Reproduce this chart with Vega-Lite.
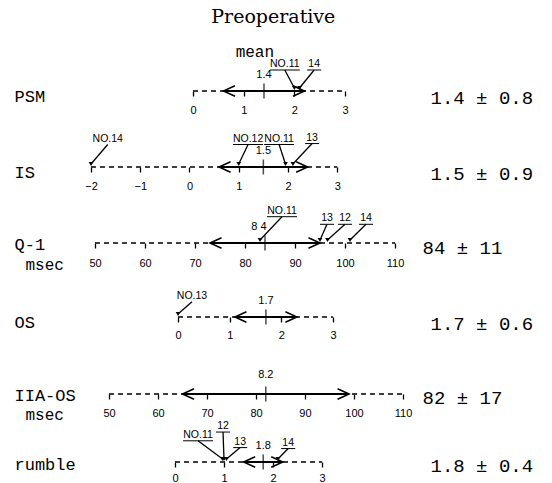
{
  "$schema": "https://vega.github.io/schema/vega-lite/v6.json",
  "background": "white",
  "padding": {"left": 14, "top": 8, "right": 5, "bottom": 2},
  "title": {"text": "Preoperative", "font": "DejaVu Serif", "fontSize": 19, "fontWeight": "normal", "color": "black", "anchor": "middle", "offset": 14},
  "config": {
    "view": {"stroke": null},
    "font": "Liberation Sans",
    "axis": {"grid": false, "labelColor": "black"}
  },
  "datasets": {
    "rows": [
      {"row": "PSM", "axisMin": 0, "axisMax": 3, "mean": 1.4, "sd": 0.8, "lower": 0.6, "upper": 2.2, "meanLabel": "1.4", "stat": "1.4 ± 0.8"},
      {"row": "IS", "axisMin": -2, "axisMax": 3, "mean": 1.5, "sd": 0.9, "lower": 0.6, "upper": 2.4, "meanLabel": "1.5", "stat": "1.5 ± 0.9"},
      {"row": "Q-1", "axisMin": 50, "axisMax": 110, "mean": 84, "sd": 11, "lower": 73, "upper": 95, "meanLabel": "8 4", "stat": "84 ± 11"},
      {"row": "OS", "axisMin": 0, "axisMax": 3, "mean": 1.7, "sd": 0.6, "lower": 1.1, "upper": 2.3, "meanLabel": "1.7", "stat": "1.7 ± 0.6"},
      {"row": "IIA-OS", "axisMin": 50, "axisMax": 110, "mean": 82, "sd": 17, "lower": 65, "upper": 99, "meanLabel": "8.2", "stat": "82 ± 17"},
      {"row": "rumble", "axisMin": 0, "axisMax": 3, "mean": 1.8, "sd": 0.4, "lower": 1.4, "upper": 2.2, "meanLabel": "1.8", "stat": "1.8 ± 0.4"}
    ],
    "notes": [
      {"row": "PSM", "kind": "note", "label": "mean", "lx": 1.22, "lift": 39},
      {"row": "PSM", "kind": "case", "label": "NO.11", "lx": 1.81, "lift": 27, "target": 2.0},
      {"row": "PSM", "kind": "case", "label": "14", "lx": 2.39, "lift": 27, "target": 2.1},
      {"row": "IS", "kind": "case", "label": "NO.14", "lx": -1.66, "lift": 30, "target": -2},
      {"row": "IS", "kind": "case", "label": "NO.12", "lx": 1.19, "lift": 30, "target": 1.0},
      {"row": "IS", "kind": "case", "label": "NO.11", "lx": 1.82, "lift": 30, "target": 1.95},
      {"row": "IS", "kind": "case", "label": "13", "lx": 2.49, "lift": 31, "target": 2.1},
      {"row": "Q-1", "kind": "case", "label": "NO.11", "lx": 87.4, "lift": 34, "target": 83},
      {"row": "Q-1", "kind": "case", "label": "13", "lx": 96.4, "lift": 26, "target": 95},
      {"row": "Q-1", "kind": "case", "label": "12", "lx": 100, "lift": 26, "target": 96.5},
      {"row": "Q-1", "kind": "case", "label": "14", "lx": 104.2, "lift": 26, "target": 101},
      {"row": "OS", "kind": "case", "label": "NO.13", "lx": 0.27, "lift": 23, "target": 0},
      {"row": "rumble", "kind": "case", "label": "NO.11", "lx": 0.47, "lift": 28, "target": 0.97},
      {"row": "rumble", "kind": "case", "label": "12", "lx": 0.98, "lift": 37, "target": 1.0},
      {"row": "rumble", "kind": "case", "label": "13", "lx": 1.33, "lift": 21, "target": 1.05},
      {"row": "rumble", "kind": "case", "label": "14", "lx": 2.31, "lift": 20, "target": 2.1}
    ]
  },
  "spacing": 0,
  "bounds": "flush",
  "vconcat": [
    {
      "width": 330, "height": 50,
      "resolve": {"scale": {"y": "independent"}},
      "layer": [
        {
          "data": {"name": "rows"},
          "transform": [{"filter": "datum.row === 'PSM'"}],
          "mark": {"type": "rule", "strokeDash": [5, 4], "strokeWidth": 1.3, "color": "black"},
          "encoding": {
            "x": {"field": "axisMin", "type": "quantitative", "scale": {"domain": [-2.229, 4.28], "nice": false, "zero": false},
              "axis": {"values": [0, 1, 2, 3], "domain": false, "ticks": true, "tickSize": 5, "tickWidth": 1.3, "tickColor": "black", "labelFont": "Liberation Sans", "labelFontSize": 11, "labelPadding": 8, "labelFlush": false, "labelOverlap": false, "title": null}},
            "x2": {"field": "axisMax"},
            "y": {"field": "row", "type": "nominal", "scale": {"type": "point", "padding": 0, "align": 1},
              "axis": {"orient": "left", "title": null, "ticks": false, "domain": false, "labelAlign": "left", "labelBaseline": "middle", "labelPadding": 66, "labelOffset": 5, "labelFont": "Liberation Mono", "labelFontSize": 17}}
          }
        },
        {
          "data": {"name": "rows"},
          "transform": [{"filter": "datum.row === 'PSM'"}],
          "encoding": {
            "y": {"field": "stat", "type": "nominal", "scale": {"type": "point", "padding": 0, "align": 1},
              "axis": {"orient": "right", "title": null, "ticks": false, "domain": false, "labelAlign": "left", "labelBaseline": "middle", "labelPadding": 20, "labelOffset": 6, "labelFont": "Liberation Mono", "labelFontSize": 19}}
          },
          "layer": [
            {"mark": {"type": "rule", "strokeWidth": 1.8, "color": "black"}, "encoding": {"x": {"field": "lower", "type": "quantitative"}, "x2": {"field": "upper"}}},
            {"mark": {"type": "tick", "orient": "vertical", "size": 15, "thickness": 1.5, "color": "black"}, "encoding": {"x": {"field": "mean", "type": "quantitative"}}},
            {"mark": {"type": "point", "shape": "M2.2,-1L0,0L2.2,1", "size": 110, "filled": false, "strokeWidth": 1.5, "color": "black", "opacity": 1}, "encoding": {"x": {"field": "lower", "type": "quantitative"}}},
            {"mark": {"type": "point", "shape": "M-2.2,-1L0,0L-2.2,1", "size": 110, "filled": false, "strokeWidth": 1.5, "color": "black", "opacity": 1}, "encoding": {"x": {"field": "upper", "type": "quantitative"}}},
            {"mark": {"type": "text", "dy": -16, "font": "Liberation Sans", "fontSize": 11, "color": "black"}, "encoding": {"x": {"field": "mean", "type": "quantitative"}, "text": {"field": "meanLabel"}}}
          ]
        },
        {
          "data": {"name": "notes"},
          "transform": [{"filter": "datum.row === 'PSM'"}],
          "layer": [
            {"transform": [{"filter": "datum.kind === 'note'"}], "mark": {"type": "text", "font": "Liberation Mono", "fontSize": 16, "color": "black"},
              "encoding": {"x": {"field": "lx", "type": "quantitative"}, "y": {"field": "lift", "type": "quantitative", "scale": {"domain": [0, 50]}, "axis": null}, "text": {"field": "label"}}},
            {"transform": [{"filter": "datum.kind === 'case'"}], "mark": {"type": "text", "font": "Liberation Sans", "fontSize": 10.5, "color": "black"},
              "encoding": {"x": {"field": "lx", "type": "quantitative"}, "y": {"field": "lift", "type": "quantitative", "axis": null}, "text": {"field": "label"}}},
            {"transform": [{"filter": "datum.kind === 'case' && indexof(datum.label, 'NO') === 0"}], "mark": {"type": "rule", "color": "black", "strokeWidth": 1, "xOffset": -15, "x2Offset": 15, "yOffset": 6},
              "encoding": {"x": {"field": "lx", "type": "quantitative"}, "x2": {"field": "lx"}, "y": {"field": "lift", "type": "quantitative", "axis": null}}},
            {"transform": [{"filter": "datum.kind === 'case' && indexof(datum.label, 'NO') !== 0"}], "mark": {"type": "rule", "color": "black", "strokeWidth": 1, "xOffset": -7, "x2Offset": 7, "yOffset": 6},
              "encoding": {"x": {"field": "lx", "type": "quantitative"}, "x2": {"field": "lx"}, "y": {"field": "lift", "type": "quantitative", "axis": null}}},
            {"transform": [{"filter": "datum.kind === 'case'"}], "mark": {"type": "rule", "color": "black", "strokeWidth": 1.3, "yOffset": 6, "y2Offset": -3},
              "encoding": {"x": {"field": "lx", "type": "quantitative"}, "x2": {"field": "target"}, "y": {"field": "lift", "type": "quantitative", "axis": null}, "y2": {"datum": 0}}},
            {"transform": [{"filter": "datum.kind === 'case'"}], "mark": {"type": "point", "shape": "triangle-down", "size": 22, "filled": true, "color": "black", "opacity": 1, "yOffset": -3},
              "encoding": {"x": {"field": "target", "type": "quantitative"}, "y": {"datum": 0, "type": "quantitative", "axis": null}}}
          ]
        }
      ]
    },
    {
      "width": 330, "height": 76,
      "resolve": {"scale": {"y": "independent"}},
      "layer": [
        {
          "data": {"name": "rows"},
          "transform": [{"filter": "datum.row === 'IS'"}],
          "mark": {"type": "rule", "strokeDash": [5, 4], "strokeWidth": 1.3, "color": "black"},
          "encoding": {
            "x": {"field": "axisMin", "type": "quantitative", "scale": {"domain": [-2.223, 4.478], "nice": false, "zero": false},
              "axis": {"values": [-2, -1, 0, 1, 2, 3], "domain": false, "ticks": true, "tickSize": 5, "tickWidth": 1.3, "tickColor": "black", "labelFont": "Liberation Sans", "labelFontSize": 11, "labelPadding": 8, "labelFlush": false, "labelOverlap": false, "title": null}},
            "x2": {"field": "axisMax"},
            "y": {"field": "row", "type": "nominal", "scale": {"type": "point", "padding": 0, "align": 1},
              "axis": {"orient": "left", "title": null, "ticks": false, "domain": false, "labelAlign": "left", "labelBaseline": "middle", "labelPadding": 66, "labelOffset": 5, "labelFont": "Liberation Mono", "labelFontSize": 17}}
          }
        },
        {
          "data": {"name": "rows"},
          "transform": [{"filter": "datum.row === 'IS'"}],
          "encoding": {
            "y": {"field": "stat", "type": "nominal", "scale": {"type": "point", "padding": 0, "align": 1},
              "axis": {"orient": "right", "title": null, "ticks": false, "domain": false, "labelAlign": "left", "labelBaseline": "middle", "labelPadding": 20, "labelOffset": 6, "labelFont": "Liberation Mono", "labelFontSize": 19}}
          },
          "layer": [
            {"mark": {"type": "rule", "strokeWidth": 1.8, "color": "black"}, "encoding": {"x": {"field": "lower", "type": "quantitative"}, "x2": {"field": "upper"}}},
            {"mark": {"type": "tick", "orient": "vertical", "size": 15, "thickness": 1.5, "color": "black"}, "encoding": {"x": {"field": "mean", "type": "quantitative"}}},
            {"mark": {"type": "point", "shape": "M2.2,-1L0,0L2.2,1", "size": 110, "filled": false, "strokeWidth": 1.5, "color": "black", "opacity": 1}, "encoding": {"x": {"field": "lower", "type": "quantitative"}}},
            {"mark": {"type": "point", "shape": "M-2.2,-1L0,0L-2.2,1", "size": 110, "filled": false, "strokeWidth": 1.5, "color": "black", "opacity": 1}, "encoding": {"x": {"field": "upper", "type": "quantitative"}}},
            {"mark": {"type": "text", "dy": -16, "font": "Liberation Sans", "fontSize": 11, "color": "black"}, "encoding": {"x": {"field": "mean", "type": "quantitative"}, "text": {"field": "meanLabel"}}}
          ]
        },
        {
          "data": {"name": "notes"},
          "transform": [{"filter": "datum.row === 'IS'"}],
          "layer": [
            {"transform": [{"filter": "datum.kind === 'case'"}], "mark": {"type": "text", "font": "Liberation Sans", "fontSize": 10.5, "color": "black"},
              "encoding": {"x": {"field": "lx", "type": "quantitative"}, "y": {"field": "lift", "type": "quantitative", "scale": {"domain": [0, 76]}, "axis": null}, "text": {"field": "label"}}},
            {"transform": [{"filter": "datum.kind === 'case' && indexof(datum.label, 'NO') === 0 && datum.label !== 'NO.14'"}], "mark": {"type": "rule", "color": "black", "strokeWidth": 1, "xOffset": -15, "x2Offset": 15, "yOffset": 6},
              "encoding": {"x": {"field": "lx", "type": "quantitative"}, "x2": {"field": "lx"}, "y": {"field": "lift", "type": "quantitative", "axis": null}}},
            {"transform": [{"filter": "datum.kind === 'case' && indexof(datum.label, 'NO') !== 0"}], "mark": {"type": "rule", "color": "black", "strokeWidth": 1, "xOffset": -7, "x2Offset": 7, "yOffset": 6},
              "encoding": {"x": {"field": "lx", "type": "quantitative"}, "x2": {"field": "lx"}, "y": {"field": "lift", "type": "quantitative", "axis": null}}},
            {"transform": [{"filter": "datum.kind === 'case'"}], "mark": {"type": "rule", "color": "black", "strokeWidth": 1.3, "yOffset": 6, "y2Offset": -3},
              "encoding": {"x": {"field": "lx", "type": "quantitative"}, "x2": {"field": "target"}, "y": {"field": "lift", "type": "quantitative", "axis": null}, "y2": {"datum": 0}}},
            {"transform": [{"filter": "datum.kind === 'case'"}], "mark": {"type": "point", "shape": "triangle-down", "size": 22, "filled": true, "color": "black", "opacity": 1, "yOffset": -3},
              "encoding": {"x": {"field": "target", "type": "quantitative"}, "y": {"datum": 0, "type": "quantitative", "axis": null}}}
          ]
        }
      ]
    },
    {
      "width": 330, "height": 76,
      "resolve": {"scale": {"y": "independent"}},
      "layer": [
        {
          "data": {"name": "rows"},
          "transform": [{"filter": "datum.row === 'Q-1'"}],
          "mark": {"type": "rule", "strokeDash": [5, 4], "strokeWidth": 1.3, "color": "black"},
          "encoding": {
            "x": {"field": "axisMin", "type": "quantitative", "scale": {"domain": [47, 113], "nice": false, "zero": false},
              "axis": {"values": [50, 60, 70, 80, 90, 100, 110], "domain": false, "ticks": true, "tickSize": 5, "tickWidth": 1.3, "tickColor": "black", "labelFont": "Liberation Sans", "labelFontSize": 11, "labelPadding": 9, "labelFlush": false, "labelOverlap": false,
                "title": "msec", "titleFont": "Liberation Mono", "titleFontSize": 16, "titleFontWeight": "normal", "titleColor": "black", "titleX": -55, "titleY": 21, "titleAlign": "left", "titleBaseline": "middle", "titleAngle": 0}},
            "x2": {"field": "axisMax"},
            "y": {"field": "row", "type": "nominal", "scale": {"type": "point", "padding": 0, "align": 1},
              "axis": {"orient": "left", "title": null, "ticks": false, "domain": false, "labelAlign": "left", "labelBaseline": "middle", "labelPadding": 66, "labelOffset": 1, "labelFont": "Liberation Mono", "labelFontSize": 17}}
          }
        },
        {
          "data": {"name": "rows"},
          "transform": [{"filter": "datum.row === 'Q-1'"}],
          "encoding": {
            "y": {"field": "stat", "type": "nominal", "scale": {"type": "point", "padding": 0, "align": 1},
              "axis": {"orient": "right", "title": null, "ticks": false, "domain": false, "labelAlign": "left", "labelBaseline": "middle", "labelPadding": 12, "labelOffset": 4, "labelFont": "Liberation Mono", "labelFontSize": 19}}
          },
          "layer": [
            {"mark": {"type": "rule", "strokeWidth": 1.8, "color": "black"}, "encoding": {"x": {"field": "lower", "type": "quantitative"}, "x2": {"field": "upper"}}},
            {"mark": {"type": "tick", "orient": "vertical", "size": 15, "thickness": 1.5, "color": "black"}, "encoding": {"x": {"field": "mean", "type": "quantitative"}}},
            {"mark": {"type": "point", "shape": "M2.2,-1L0,0L2.2,1", "size": 110, "filled": false, "strokeWidth": 1.5, "color": "black", "opacity": 1}, "encoding": {"x": {"field": "lower", "type": "quantitative"}}},
            {"mark": {"type": "point", "shape": "M-2.2,-1L0,0L-2.2,1", "size": 110, "filled": false, "strokeWidth": 1.5, "color": "black", "opacity": 1}, "encoding": {"x": {"field": "upper", "type": "quantitative"}}},
            {"mark": {"type": "text", "dy": -16, "dx": -6, "font": "Liberation Sans", "fontSize": 11, "color": "black"}, "encoding": {"x": {"field": "mean", "type": "quantitative"}, "text": {"field": "meanLabel"}}}
          ]
        },
        {
          "data": {"name": "notes"},
          "transform": [{"filter": "datum.row === 'Q-1'"}],
          "layer": [
            {"transform": [{"filter": "datum.kind === 'case'"}], "mark": {"type": "text", "font": "Liberation Sans", "fontSize": 10.5, "color": "black"},
              "encoding": {"x": {"field": "lx", "type": "quantitative"}, "y": {"field": "lift", "type": "quantitative", "scale": {"domain": [0, 76]}, "axis": null}, "text": {"field": "label"}}},
            {"transform": [{"filter": "datum.kind === 'case' && indexof(datum.label, 'NO') === 0"}], "mark": {"type": "rule", "color": "black", "strokeWidth": 1, "xOffset": -15, "x2Offset": 15, "yOffset": 6},
              "encoding": {"x": {"field": "lx", "type": "quantitative"}, "x2": {"field": "lx"}, "y": {"field": "lift", "type": "quantitative", "axis": null}}},
            {"transform": [{"filter": "datum.kind === 'case' && indexof(datum.label, 'NO') !== 0"}], "mark": {"type": "rule", "color": "black", "strokeWidth": 1, "xOffset": -7, "x2Offset": 7, "yOffset": 6},
              "encoding": {"x": {"field": "lx", "type": "quantitative"}, "x2": {"field": "lx"}, "y": {"field": "lift", "type": "quantitative", "axis": null}}},
            {"transform": [{"filter": "datum.kind === 'case'"}], "mark": {"type": "rule", "color": "black", "strokeWidth": 1.3, "yOffset": 6, "y2Offset": -3},
              "encoding": {"x": {"field": "lx", "type": "quantitative"}, "x2": {"field": "target"}, "y": {"field": "lift", "type": "quantitative", "axis": null}, "y2": {"datum": 0}}},
            {"transform": [{"filter": "datum.kind === 'case'"}], "mark": {"type": "point", "shape": "triangle-down", "size": 22, "filled": true, "color": "black", "opacity": 1, "yOffset": -3},
              "encoding": {"x": {"field": "target", "type": "quantitative"}, "y": {"datum": 0, "type": "quantitative", "axis": null}}}
          ]
        }
      ]
    },
    {
      "width": 330, "height": 74,
      "resolve": {"scale": {"y": "independent"}},
      "layer": [
        {
          "data": {"name": "rows"},
          "transform": [{"filter": "datum.row === 'OS'"}],
          "mark": {"type": "rule", "strokeDash": [5, 4], "strokeWidth": 1.3, "color": "black"},
          "encoding": {
            "x": {"field": "axisMin", "type": "quantitative", "scale": {"domain": [-1.896, 4.487], "nice": false, "zero": false},
              "axis": {"values": [0, 1, 2, 3], "domain": false, "ticks": true, "tickSize": 5, "tickWidth": 1.3, "tickColor": "black", "labelFont": "Liberation Sans", "labelFontSize": 11, "labelPadding": 7, "labelFlush": false, "labelOverlap": false, "title": null}},
            "x2": {"field": "axisMax"},
            "y": {"field": "row", "type": "nominal", "scale": {"type": "point", "padding": 0, "align": 1},
              "axis": {"orient": "left", "title": null, "ticks": false, "domain": false, "labelAlign": "left", "labelBaseline": "middle", "labelPadding": 66, "labelOffset": 5, "labelFont": "Liberation Mono", "labelFontSize": 17}}
          }
        },
        {
          "data": {"name": "rows"},
          "transform": [{"filter": "datum.row === 'OS'"}],
          "encoding": {
            "y": {"field": "stat", "type": "nominal", "scale": {"type": "point", "padding": 0, "align": 1},
              "axis": {"orient": "right", "title": null, "ticks": false, "domain": false, "labelAlign": "left", "labelBaseline": "middle", "labelPadding": 20, "labelOffset": 6, "labelFont": "Liberation Mono", "labelFontSize": 19}}
          },
          "layer": [
            {"mark": {"type": "rule", "strokeWidth": 1.8, "color": "black"}, "encoding": {"x": {"field": "lower", "type": "quantitative"}, "x2": {"field": "upper"}}},
            {"mark": {"type": "tick", "orient": "vertical", "size": 15, "thickness": 1.5, "color": "black"}, "encoding": {"x": {"field": "mean", "type": "quantitative"}}},
            {"mark": {"type": "point", "shape": "M2.2,-1L0,0L2.2,1", "size": 110, "filled": false, "strokeWidth": 1.5, "color": "black", "opacity": 1}, "encoding": {"x": {"field": "lower", "type": "quantitative"}}},
            {"mark": {"type": "point", "shape": "M-2.2,-1L0,0L-2.2,1", "size": 110, "filled": false, "strokeWidth": 1.5, "color": "black", "opacity": 1}, "encoding": {"x": {"field": "upper", "type": "quantitative"}}},
            {"mark": {"type": "text", "dy": -16, "font": "Liberation Sans", "fontSize": 11, "color": "black"}, "encoding": {"x": {"field": "mean", "type": "quantitative"}, "text": {"field": "meanLabel"}}}
          ]
        },
        {
          "data": {"name": "notes"},
          "transform": [{"filter": "datum.row === 'OS'"}],
          "layer": [
            {"transform": [{"filter": "datum.kind === 'case'"}], "mark": {"type": "text", "font": "Liberation Sans", "fontSize": 10.5, "color": "black"},
              "encoding": {"x": {"field": "lx", "type": "quantitative"}, "y": {"field": "lift", "type": "quantitative", "scale": {"domain": [0, 74]}, "axis": null}, "text": {"field": "label"}}},
            {"transform": [{"filter": "datum.kind === 'case'"}], "mark": {"type": "rule", "color": "black", "strokeWidth": 1.3, "yOffset": 6, "y2Offset": -3},
              "encoding": {"x": {"field": "lx", "type": "quantitative"}, "x2": {"field": "target"}, "y": {"field": "lift", "type": "quantitative", "axis": null}, "y2": {"datum": 0}}},
            {"transform": [{"filter": "datum.kind === 'case'"}], "mark": {"type": "point", "shape": "triangle-down", "size": 22, "filled": true, "color": "black", "opacity": 1, "yOffset": -3},
              "encoding": {"x": {"field": "target", "type": "quantitative"}, "y": {"datum": 0, "type": "quantitative", "axis": null}}}
          ]
        }
      ]
    },
    {
      "width": 330, "height": 77,
      "resolve": {"scale": {"y": "independent"}},
      "layer": [
        {
          "data": {"name": "rows"},
          "transform": [{"filter": "datum.row === 'IIA-OS'"}],
          "mark": {"type": "rule", "strokeDash": [5, 4], "strokeWidth": 1.3, "color": "black"},
          "encoding": {
            "x": {"field": "axisMin", "type": "quantitative", "scale": {"domain": [44.08, 111.43], "nice": false, "zero": false},
              "axis": {"values": [50, 60, 70, 80, 90, 100, 110], "domain": false, "ticks": true, "tickSize": 5, "tickWidth": 1.3, "tickColor": "black", "labelFont": "Liberation Sans", "labelFontSize": 11, "labelPadding": 8, "labelFlush": false, "labelOverlap": false,
                "title": "msec", "titleFont": "Liberation Mono", "titleFontSize": 16, "titleFontWeight": "normal", "titleColor": "black", "titleX": -55, "titleY": 20, "titleAlign": "left", "titleBaseline": "middle", "titleAngle": 0}},
            "x2": {"field": "axisMax"},
            "y": {"field": "row", "type": "nominal", "scale": {"type": "point", "padding": 0, "align": 1},
              "axis": {"orient": "left", "title": null, "ticks": false, "domain": false, "labelAlign": "left", "labelBaseline": "middle", "labelPadding": 66, "labelOffset": 1, "labelFont": "Liberation Mono", "labelFontSize": 17}}
          }
        },
        {
          "data": {"name": "rows"},
          "transform": [{"filter": "datum.row === 'IIA-OS'"}],
          "encoding": {
            "y": {"field": "stat", "type": "nominal", "scale": {"type": "point", "padding": 0, "align": 1},
              "axis": {"orient": "right", "title": null, "ticks": false, "domain": false, "labelAlign": "left", "labelBaseline": "middle", "labelPadding": 12, "labelOffset": 3, "labelFont": "Liberation Mono", "labelFontSize": 19}}
          },
          "layer": [
            {"mark": {"type": "rule", "strokeWidth": 1.8, "color": "black"}, "encoding": {"x": {"field": "lower", "type": "quantitative"}, "x2": {"field": "upper"}}},
            {"mark": {"type": "tick", "orient": "vertical", "size": 15, "thickness": 1.5, "color": "black"}, "encoding": {"x": {"field": "mean", "type": "quantitative"}}},
            {"mark": {"type": "point", "shape": "M2.2,-1L0,0L2.2,1", "size": 110, "filled": false, "strokeWidth": 1.5, "color": "black", "opacity": 1}, "encoding": {"x": {"field": "lower", "type": "quantitative"}}},
            {"mark": {"type": "point", "shape": "M-2.2,-1L0,0L-2.2,1", "size": 110, "filled": false, "strokeWidth": 1.5, "color": "black", "opacity": 1}, "encoding": {"x": {"field": "upper", "type": "quantitative"}}},
            {"mark": {"type": "text", "dy": -19, "font": "Liberation Sans", "fontSize": 11, "color": "black"}, "encoding": {"x": {"field": "mean", "type": "quantitative"}, "text": {"field": "meanLabel"}}}
          ]
        }
      ]
    },
    {
      "width": 330, "height": 68,
      "resolve": {"scale": {"y": "independent"}},
      "layer": [
        {
          "data": {"name": "rows"},
          "transform": [{"filter": "datum.row === 'rumble'"}],
          "mark": {"type": "rule", "strokeDash": [5, 4], "strokeWidth": 1.3, "color": "black"},
          "encoding": {
            "x": {"field": "axisMin", "type": "quantitative", "scale": {"domain": [-1.939, 4.796], "nice": false, "zero": false},
              "axis": {"values": [0, 1, 2, 3], "domain": false, "ticks": true, "tickSize": 5, "tickWidth": 1.3, "tickColor": "black", "labelFont": "Liberation Sans", "labelFontSize": 11, "labelPadding": 5, "labelFlush": false, "labelOverlap": false, "title": null}},
            "x2": {"field": "axisMax"},
            "y": {"field": "row", "type": "nominal", "scale": {"type": "point", "padding": 0, "align": 1},
              "axis": {"orient": "left", "title": null, "ticks": false, "domain": false, "labelAlign": "left", "labelBaseline": "middle", "labelPadding": 66, "labelOffset": 2, "labelFont": "Liberation Mono", "labelFontSize": 17}}
          }
        },
        {
          "data": {"name": "rows"},
          "transform": [{"filter": "datum.row === 'rumble'"}],
          "encoding": {
            "y": {"field": "stat", "type": "nominal", "scale": {"type": "point", "padding": 0, "align": 1},
              "axis": {"orient": "right", "title": null, "ticks": false, "domain": false, "labelAlign": "left", "labelBaseline": "middle", "labelPadding": 20, "labelOffset": 3, "labelFont": "Liberation Mono", "labelFontSize": 19}}
          },
          "layer": [
            {"mark": {"type": "rule", "strokeWidth": 1.8, "color": "black"}, "encoding": {"x": {"field": "lower", "type": "quantitative"}, "x2": {"field": "upper"}}},
            {"mark": {"type": "tick", "orient": "vertical", "size": 15, "thickness": 1.5, "color": "black"}, "encoding": {"x": {"field": "mean", "type": "quantitative"}}},
            {"mark": {"type": "point", "shape": "M2.2,-1L0,0L2.2,1", "size": 110, "filled": false, "strokeWidth": 1.5, "color": "black", "opacity": 1}, "encoding": {"x": {"field": "lower", "type": "quantitative"}}},
            {"mark": {"type": "point", "shape": "M-2.2,-1L0,0L-2.2,1", "size": 110, "filled": false, "strokeWidth": 1.5, "color": "black", "opacity": 1}, "encoding": {"x": {"field": "upper", "type": "quantitative"}}},
            {"mark": {"type": "text", "dy": -16, "font": "Liberation Sans", "fontSize": 11, "color": "black"}, "encoding": {"x": {"field": "mean", "type": "quantitative"}, "text": {"field": "meanLabel"}}}
          ]
        },
        {
          "data": {"name": "notes"},
          "transform": [{"filter": "datum.row === 'rumble'"}],
          "layer": [
            {"transform": [{"filter": "datum.kind === 'case'"}], "mark": {"type": "text", "font": "Liberation Sans", "fontSize": 10.5, "color": "black"},
              "encoding": {"x": {"field": "lx", "type": "quantitative"}, "y": {"field": "lift", "type": "quantitative", "scale": {"domain": [0, 68]}, "axis": null}, "text": {"field": "label"}}},
            {"transform": [{"filter": "datum.kind === 'case' && indexof(datum.label, 'NO') === 0"}], "mark": {"type": "rule", "color": "black", "strokeWidth": 1, "xOffset": -15, "x2Offset": 15, "yOffset": 6},
              "encoding": {"x": {"field": "lx", "type": "quantitative"}, "x2": {"field": "lx"}, "y": {"field": "lift", "type": "quantitative", "axis": null}}},
            {"transform": [{"filter": "datum.kind === 'case' && indexof(datum.label, 'NO') !== 0"}], "mark": {"type": "rule", "color": "black", "strokeWidth": 1, "xOffset": -7, "x2Offset": 7, "yOffset": 6},
              "encoding": {"x": {"field": "lx", "type": "quantitative"}, "x2": {"field": "lx"}, "y": {"field": "lift", "type": "quantitative", "axis": null}}},
            {"transform": [{"filter": "datum.kind === 'case'"}], "mark": {"type": "rule", "color": "black", "strokeWidth": 1.3, "yOffset": 6, "y2Offset": -3},
              "encoding": {"x": {"field": "lx", "type": "quantitative"}, "x2": {"field": "target"}, "y": {"field": "lift", "type": "quantitative", "axis": null}, "y2": {"datum": 0}}},
            {"transform": [{"filter": "datum.kind === 'case'"}], "mark": {"type": "point", "shape": "triangle-down", "size": 22, "filled": true, "color": "black", "opacity": 1, "yOffset": -3},
              "encoding": {"x": {"field": "target", "type": "quantitative"}, "y": {"datum": 0, "type": "quantitative", "axis": null}}}
          ]
        }
      ]
    }
  ]
}
